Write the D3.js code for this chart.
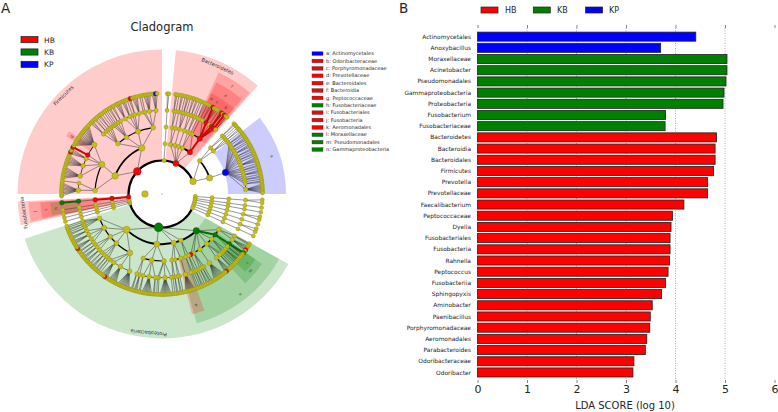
<!DOCTYPE html>
<html>
<head>
<meta charset="utf-8">
<script src="https://cdn.jsdelivr.net/npm/d3@7"></script>
<style>
  body { margin: 0; background: #fff; }
  svg { display: block; font-family: "DejaVu Sans", sans-serif; fill: #262626; }
</style>
</head>
<body>
<div id="chart"></div>
<script>
// Panel B values
const categories = ["Actinomycetales", "Anoxybacillus", "Moraxellaceae", "Acinetobacter", "Pseudomonadales", "Gammaproteobacteria", "Proteobacteria", "Fusobacterium", "Fusobacteriaceae", "Bacteroidetes", "Bacteroidia", "Bacteroidales", "Firmicutes", "Prevotella", "Prevotellaceae", "Faecalibacterium", "Peptococcaceae", "Dyella", "Fusobacteriales", "Fusobacteria", "Rahnella", "Peptococcus", "Fusobacteriia", "Sphingopyxis", "Aminobacter", "Paenibacillus", "Porphyromonadaceae", "Aeromonadales", "Parabacteroides", "Odoribacteraceae", "Odoribacter"];
const ldaScores = [4.41, 3.70, 5.04, 5.04, 5.02, 4.98, 4.96, 3.80, 3.79, 4.83, 4.80, 4.80, 4.77, 4.65, 4.65, 4.17, 3.94, 3.91, 3.89, 3.89, 3.88, 3.85, 3.80, 3.72, 3.53, 3.49, 3.48, 3.42, 3.39, 3.16, 3.14];
const barGroups = ["KP", "KP", "KB", "KB", "KB", "KB", "KB", "KB", "KB", "HB", "HB", "HB", "HB", "HB", "HB", "HB", "HB", "HB", "HB", "HB", "HB", "HB", "HB", "HB", "HB", "HB", "HB", "HB", "HB", "HB", "HB"];
const groups = ["HB", "KB", "KP"];
const groupColors = ["#ff0000", "#008000", "#0000ff"];
const ldaTicks = [0, 1, 2, 3, 4, 5, 6];

// Panel A legend
const cladeLabels = ["a: Actinomycetales", "b: Odoribacteraceae", "c: Porphyromonadaceae", "d: Prevotellaceae", "e: Bacteroidales", "f: Bacteroidia", "g: Peptococcaceae", "h: Fusobacteriaceae", "i: Fusobacteriales", "j: Fusobacteria", "k: Aeromonadales", "l: Moraxellaceae", "m: Pseudomonadales", "n: Gammaproteobacteria"];
const cladeGroups = ["KP", "HB", "HB", "HB", "HB", "HB", "HB", "KB", "HB", "HB", "HB", "KB", "KB", "KB"];

// Biomarker nodes of the cladogram
const hbNodes = ["Bacteroidetes", "Bacteroidia", "Bacteroidales", "Prevotellaceae", "Prevotella", "Porphyromonadaceae", "Parabacteroides", "Odoribacteraceae", "Odoribacter", "Firmicutes", "Peptococcaceae", "Peptococcus", "Faecalibacterium", "Paenibacillus", "Fusobacteria", "Fusobacteriia", "Fusobacteriales", "Aeromonadales", "Dyella", "Rahnella", "Sphingopyxis", "Aminobacter"];
const kbNodes = ["Proteobacteria", "Gammaproteobacteria", "Pseudomonadales", "Moraxellaceae", "Acinetobacter", "Fusobacteriaceae", "Fusobacterium"];
const kpNodes = ["Actinomycetales", "Anoxybacillus"];

// Taxonomy, phylum > class > order > family > genus.
// A number is a node with that many leaves, 0 a bare leaf, a string a named leaf
const bacteroidetesTree = [
  ["Bacteroidetes",
    [[2, 1], [2]],
    [[1, 2, 1]],
    [[2, 2]],
    [[1, 1], [2]],
    ["Bacteroidia",
      [1],
      ["Bacteroidales",
        2,
        ["Prevotellaceae", "Prevotella", 0, 0, 0],
        1,
        ["Porphyromonadaceae", 0, "Parabacteroides", 0],
        ["Odoribacteraceae", "Odoribacter"],
        2
      ]
    ]
  ]
];
const chainsTop = [[[[2]]]];
const actinoTree = [
  [
    [[2, 1], [1, 2, 1]],
    [["Actinomycetales", 2, 1, 3, 1, 1, 3, 2, 1, 2, 1, 4, 1, 2, 1, 3, 1, 2, 1, 2, 7]]
  ]
];
const chainsRight = [[[[2]]], [[[1]]], [[[1]]], [[[2]]], [[[1]]], [[[2]]], [[[1]]]];
const proteoTree = [
  ["Proteobacteria",
    ["Gammaproteobacteria",
      [2, [0, 0, 0, "Dyella", 0]],
      ["Pseudomonadales", ["Moraxellaceae", "Acinetobacter", 0, 0], 2],
      [3, 1, 1],
      [1, 2, [0, 0, 0, "Rahnella", 0]],
      [9],
      [1, 2, 2],
      ["Aeromonadales", 1]
    ],
    [[2, 1], [1, 1]],
    [[8], [1, 2], [2, 1]],
    [[1, 9, 1, 1], [2, 8, 2], [3, 2]],
    [
      [10, 7, [0, 0, "Sphingopyxis", 0, 0, 0], 1],
      [2, 2, 3, 2],
      [3, 3, 2],
      [2, [0, "Aminobacter", 0, 0], 4, 3],
      [2, 1, 2, 1, 1]
    ]
  ]
];
const chainsLeft = [[[[1]]], [[[1]]], [[[1]]], [[[1]]]];
const fusoTree = [
  ["Fusobacteria", ["Fusobacteriia", ["Fusobacteriales", ["Fusobacteriaceae", "Fusobacterium"]]]]
];
const firmicutesTree = [
  ["Firmicutes",
    [
      [9, 1],
      [8, 7, [0, "Faecalibacterium", 0, 0], ["Peptococcaceae", "Peptococcus"], 16]
    ],
    [
      [3, 2, 1, 2, 1],
      [1, 1, 1, 2, 2],
      [4, 3, 1, [0, "Paenibacillus"], 4],
      [1, 1, 5, [0, 0, "Anoxybacillus", 0]]
    ]
  ]
];

// Degrees clockwise from the top
const treeSpecs = [chainsTop, bacteroidetesTree, actinoTree, chainsRight, proteoTree, chainsLeft, fusoTree, firmicutesTree];
const treeStarts = [2.5, 7, 45, 92, 119, 253, 265, 268];
const treeEnds = [4.5, 41, 90, 116, 252, 262, 265, 358];

// Shaded sectors: label, start, end, inner radius level, outer radius, group
const sectorLabels = ["Firmicutes", "Bacteroidetes", "Proteobacteria", "Fusobacteria", "f", "e", "d", "c", "b", "g", "a", "n", "m", "l", "k", "j", "i", "h"];
const sectorStarts = [270, 5.5, 119, 257.5, 25, 26, 26, 29, 33, 301, 52, 119, 125, 125, 160, 258, 258.5, 259];
const sectorEnds = [360, 41.5, 252, 267, 41, 40, 29, 33, 40, 304, 90, 165, 137, 133, 166, 266.5, 266, 265.5];
const sectorInner = [1, 1, 1, 1, 2, 3, 4, 4, 4, 4, 3, 2, 3, 4, 3, 2, 3, 4];
const sectorOuter = [144.5, 144.5, 144.5, 144.5, 134, 124, 112, 112, 112, 112, 124, 134, 122, 114, 124, 134, 122, 112];
const sectorGroups = ["HB", "HB", "KB", "HB", "HB", "HB", "HB", "HB", "HB", "HB", "KP", "KB", "KB", "KB", "HB", "HB", "HB", "KB"];
const sectorTextR = [139, 139, 139, 139, 128, 117, 107, 107, 107, 107, 116, 127, 117, 109, 116, 128, 117, 107];

const width = 778, height = 412;
const groupColor = d3.scaleOrdinal(groups, groupColors);
const olive = "#c2be1e";

const svg = d3.select("#chart").append("svg")
  .attr("width", width)
  .attr("height", height);

drawCladogram();
drawBars();

function toNode(spec) {
  if (typeof spec === "string") return { name: spec };
  if (typeof spec === "number") return spec > 0 ? { children: d3.range(spec).map(() => ({})) } : {};
  const named = typeof spec[0] === "string";
  return {
    name: named ? spec[0] : undefined,
    children: (named ? spec.slice(1) : spec).map(toNode)
  };
}

function drawCladogram() {
  const cx = 162, cy = 194;
  const levelRadius = d3.scaleLinear().domain([1, 5]).range([33.5, 100.5]);
  const nodeRadius = d3.scaleSqrt().domain([1, 60]).range([2.0, 3.5]);

  const polar = (angle, r) => {
    const t = angle * Math.PI / 180;
    return [cx + r * Math.sin(t), cy - r * Math.cos(t)];
  };
  const nodeColor = name => {
    if (hbNodes.includes(name)) return groupColor("HB");
    if (kbNodes.includes(name)) return groupColor("KB");
    if (kpNodes.includes(name)) return groupColor("KP");
    return olive;
  };
  // Thick coloured links only inside a biomarker clade, below class level
  const isThick = d => {
    const c = nodeColor(d.data.name);
    return c !== olive && c === nodeColor(d.parent.data.name) && (d.depth > 2 || d.parent.data.name === "Fusobacteria");
  };

  const g = svg.append("g");

  // Sectors
  const arc = d3.arc();
  sectorLabels.forEach((label, i) => {
    g.append("path")
      .attr("transform", `translate(${cx},${cy})`)
      .attr("d", arc({
        innerRadius: levelRadius(sectorInner[i]) - 1,
        outerRadius: sectorOuter[i],
        startAngle: sectorStarts[i] * Math.PI / 180,
        endAngle: sectorEnds[i] * Math.PI / 180
      }))
      .attr("fill", groupColor(sectorGroups[i]))
      .attr("fill-opacity", 0.2);
  });

  // Lay out every tree on its own span of angles
  const allNodes = [];
  const allLinks = [];
  const allArcs = [];
  treeSpecs.forEach((spec, i) => {
    const root = d3.hierarchy({ children: spec.map(toNode) });
    d3.cluster()
      .size([treeEnds[i] - treeStarts[i], 1])
      .separation((a, b) => a.parent === b.parent ? 1 : (a.parent.parent === b.parent.parent ? 1.2 : 1.5))(root);
    root.eachAfter(d => {
      d.angle = d.children ? d3.mean(d.leaves(), l => l.angle) : treeStarts[i] + d.x;
    });
    root.descendants().forEach(d => {
      if (d.depth === 0) return;
      allNodes.push(d);
      if (d.depth > 1) allLinks.push(d);
      if (d.children && d.children.length > 1 && d.depth < 4) allArcs.push(d);
    });
  });

  // Inner ring joining the phyla
  const arcWidth = d3.scaleOrdinal([2, 3, 4], [1.8, 1.2, 0.6]);
  g.append("path")
    .attr("transform", `translate(${cx},${cy})`)
    .attr("d", arc({ innerRadius: levelRadius(1) - 1.1, outerRadius: levelRadius(1) + 1.1, startAngle: 115 * Math.PI / 180, endAngle: 426 * Math.PI / 180 }))
    .attr("fill", "#000");

  g.selectAll("line.link")
    .data(allLinks)
    .enter()
    .append("line")
      .attr("class", "link")
      .attr("x1", d => polar(d.parent.angle, levelRadius(d.parent.depth))[0])
      .attr("y1", d => polar(d.parent.angle, levelRadius(d.parent.depth))[1])
      .attr("x2", d => polar(d.angle, levelRadius(d.depth))[0])
      .attr("y2", d => polar(d.angle, levelRadius(d.depth))[1])
      .attr("stroke", d => isThick(d) ? d3.color(nodeColor(d.data.name)).darker(0.4) : "#333")
      .attr("stroke-width", d => isThick(d) ? 2 : 0.5);

  g.selectAll("path.sib")
    .data(allArcs)
    .enter()
    .append("path")
      .attr("class", "sib")
      .attr("transform", `translate(${cx},${cy})`)
      .attr("d", d => {
        const r = levelRadius(d.depth + 1);
        const w = arcWidth(d.depth + 1) / 2;
        return arc({
          innerRadius: r - w,
          outerRadius: r + w,
          startAngle: d.children[0].angle * Math.PI / 180,
          endAngle: d.children[d.children.length - 1].angle * Math.PI / 180
        });
      })
      .attr("fill", "#000");

  // Centre marks
  g.append("circle").attr("cx", cx).attr("cy", cy).attr("r", 0.5).attr("fill", "#555");
  g.append("circle")
    .attr("cx", polar(270, 17)[0])
    .attr("cy", polar(270, 17)[1])
    .attr("r", 3.3)
    .attr("fill", olive)
    .attr("stroke", "#8a8714")
    .attr("stroke-width", 0.4);

  g.selectAll("circle.node")
    .data(allNodes)
    .enter()
    .append("circle")
      .attr("class", "node")
      .attr("cx", d => polar(d.angle, levelRadius(d.depth))[0])
      .attr("cy", d => polar(d.angle, levelRadius(d.depth))[1])
      .attr("r", d => {
        const base = nodeRadius(d.leaves().length);
        return nodeColor(d.data.name) === olive ? base : Math.max(base, 2.3);
      })
      .attr("fill", d => nodeColor(d.data.name))
      .attr("stroke", d => nodeColor(d.data.name) === olive ? "#8a8714" : "#333")
      .attr("stroke-width", 0.4);

  // Sector labels
  sectorLabels.forEach((label, i) => {
    const mid = (sectorStarts[i] + sectorEnds[i]) / 2;
    const pos = polar(mid, sectorTextR[i]);
    g.append("text")
      .attr("transform", `translate(${pos[0]},${pos[1]}) rotate(${mid})`)
      .attr("text-anchor", "middle")
      .attr("dominant-baseline", "middle")
      .attr("font-size", label.length > 1 ? 5 : 4)
      .attr("fill", "#333")
      .text(label);
  });

  // Title, panel letter and legends
  svg.append("text").attr("x", 1).attr("y", 12.5).attr("font-size", 13.5).text("A");
  svg.append("text").attr("x", 162).attr("y", 31).attr("text-anchor", "middle").attr("font-size", 11.5).text("Cladogram");

  groups.forEach((name, i) => {
    svg.append("rect")
      .attr("x", 21).attr("y", 36.5 + i * 12.4).attr("width", 17).attr("height", 6.2)
      .attr("fill", groupColor(name)).attr("stroke", "#222").attr("stroke-width", 0.7);
    svg.append("text")
      .attr("x", 44).attr("y", 42.5 + i * 12.4).attr("font-size", 7.5)
      .text(name);
  });

  cladeLabels.forEach((label, i) => {
    svg.append("rect")
      .attr("x", 312).attr("y", 51.8 + i * 7.38).attr("width", 11).attr("height", 3.6)
      .attr("fill", groupColor(cladeGroups[i])).attr("stroke", "#333").attr("stroke-width", 0.4);
    svg.append("text")
      .attr("x", 326).attr("y", 55.3 + i * 7.38).attr("font-size", 5)
      .text(label);
  });
}

function drawBars() {
  const xScale = d3.scaleLinear().domain([0, 6]).range([477.5, 774.5]);
  const yScale = d3.scaleBand()
    .domain(categories)
    .range([31.1, 378])
    .paddingInner(0.19)
    .paddingOuter(0.09);

  svg.append("text").attr("x", 399).attr("y", 12.5).attr("font-size", 13.5).text("B");

  groups.forEach((name, i) => {
    svg.append("rect")
      .attr("x", 481 + i * 52.3).attr("y", 7).attr("width", 17).attr("height", 6)
      .attr("fill", groupColor(name)).attr("stroke", "#222").attr("stroke-width", 0.7);
    svg.append("text")
      .attr("x", 505 + i * 52).attr("y", 13).attr("font-size", 8)
      .text(name);
  });

  // Grid
  svg.selectAll("line.grid")
    .data(ldaTicks.slice(1, 6))
    .enter()
    .append("line")
      .attr("class", "grid")
      .attr("x1", d => xScale(d))
      .attr("x2", d => xScale(d))
      .attr("y1", 28)
      .attr("y2", 380)
      .attr("stroke", "#888")
      .attr("stroke-width", 0.7)
      .attr("stroke-dasharray", "1,1.5");

  svg.selectAll("rect.bar")
    .data(categories)
    .enter()
    .append("rect")
      .attr("class", "bar")
      .attr("x", xScale(0))
      .attr("y", d => yScale(d))
      .attr("width", (d, i) => xScale(ldaScores[i]) - xScale(0))
      .attr("height", yScale.bandwidth())
      .attr("fill", (d, i) => groupColor(barGroups[i]))
      .attr("stroke", "#222")
      .attr("stroke-width", 0.8);

  svg.selectAll("text.cat")
    .data(categories)
    .enter()
    .append("text")
      .attr("class", "cat")
      .attr("x", 471)
      .attr("y", d => yScale(d) + yScale.bandwidth() / 2)
      .attr("dy", "0.35em")
      .attr("text-anchor", "end")
      .attr("font-size", 5.9)
      .text(d => d);

  // Axes
  const bottom = svg.append("g")
    .attr("transform", "translate(0,380)")
    .call(d3.axisBottom(xScale).tickValues(ldaTicks).tickFormat(d3.format("d")).tickSize(3).tickPadding(2.5));
  bottom.select(".domain").remove();
  bottom.selectAll("text").attr("font-size", 11).attr("fill", "#262626").attr("font-family", "DejaVu Sans");
  bottom.selectAll("line").attr("stroke", "#333").attr("stroke-width", 0.6);

  const top = svg.append("g")
    .attr("transform", "translate(0,28)")
    .call(d3.axisTop(xScale).tickValues(ldaTicks).tickFormat("").tickSize(3));
  top.select(".domain").remove();
  top.selectAll("line").attr("stroke", "#333").attr("stroke-width", 0.6);

  svg.append("text")
    .attr("x", 625)
    .attr("y", 409)
    .attr("text-anchor", "middle")
    .attr("font-size", 10)
    .text("LDA SCORE (log 10)");
}
</script>
</body>
</html>
